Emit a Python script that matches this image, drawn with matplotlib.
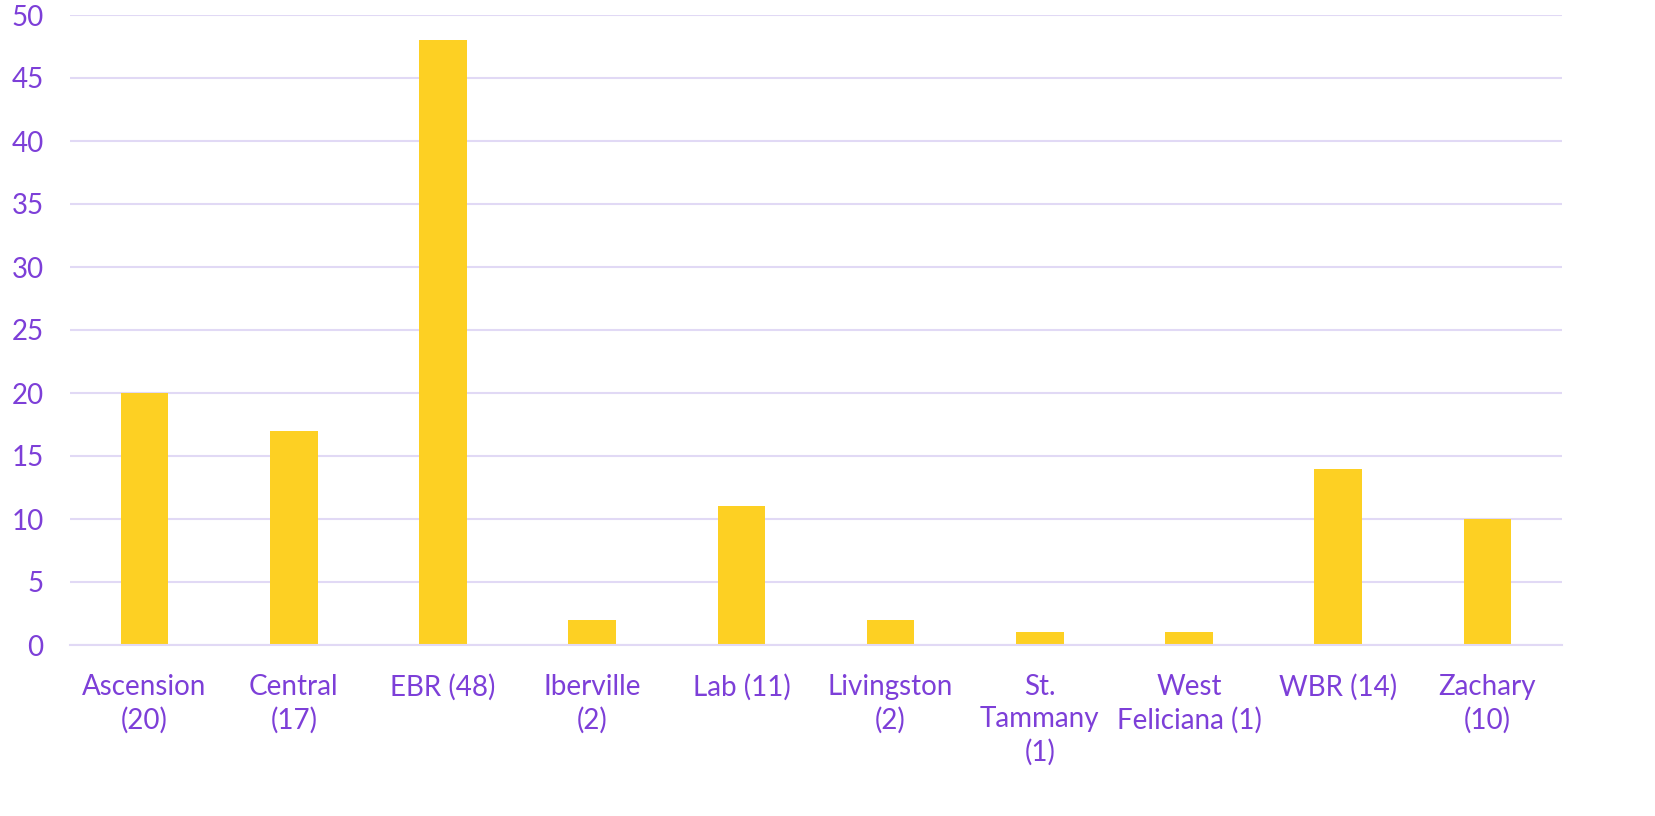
import matplotlib.pyplot as plt
import numpy as np

# school systems and counts
labels = ["Ascension\n(20)", "Central\n(17)", "EBR (48)", "Iberville\n(2)", "Lab (11)",
          "Livingston\n(2)", "St.\nTammany\n(1)", "West\nFeliciana (1)", "WBR (14)", "Zachary\n(10)"]
counts = [20, 17, 48, 2, 11, 2, 1, 1, 14, 10]
yticks = [0, 5, 10, 15, 20, 25, 30, 35, 40, 45, 50]

gold = "#FDD023"
purple = "#7D3FD8"
grid = "#E1D9F5"

plt.rcParams['font.family'] = ['Lato', 'DejaVu Sans']

fig = plt.figure(figsize=(16.55, 8.16), dpi=100)
ax = fig.add_axes([70/1655, 1 - 645/816, 1492/1655, 630/816])

x = np.arange(len(counts))
ax.bar(x, counts, width=0.32, color=gold, zorder=3)

ax.set_xlim(-0.5, len(counts) - 0.5)
ax.set_ylim(0, 50)
ax.set_yticks(yticks)
ax.set_yticklabels([str(v) for v in yticks])
ax.set_xticks(x)
ax.set_xticklabels(labels, linespacing=1.3, va="top")

ax.yaxis.grid(True, color=grid, linewidth=1.5, zorder=0)
ax.set_axisbelow(True)
for s in ["top", "right", "left"]:
    ax.spines[s].set_visible(False)
ax.spines["bottom"].set_color(grid)
ax.spines["bottom"].set_linewidth(1.5)
ax.spines["bottom"].set_zorder(4)

ax.tick_params(axis="both", length=0, labelsize=20, colors=purple)
ax.tick_params(axis="y", pad=19)
ax.tick_params(axis="x", pad=21)

fig.savefig("out.png", dpi=100, facecolor="white")
